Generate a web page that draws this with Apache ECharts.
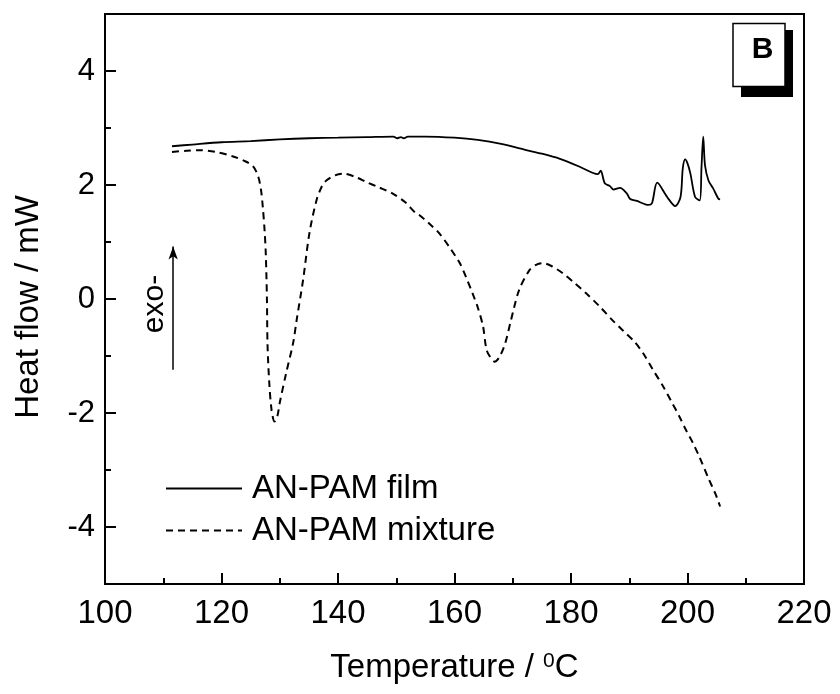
<!DOCTYPE html>
<html>
<head>
<meta charset="utf-8">
<script src="https://cdn.jsdelivr.net/npm/echarts@6/dist/echarts.min.js"></script>
<style>html,body{margin:0;padding:0;background:#fff}#c{width:840px;height:694px}</style>
</head>
<body>
<div id="c"></div>
<script>
// Temperature (°C) and heat flow (mW)
const filmT = [111.5,115,120,125,130,135,140,145,149.5,150.2,150.8,151.3,152,155,160,164,168,172,175,178.1,181.5,183.8,184.6,185.1,185.8,186.7,187.3,188.4,189.6,190.1,191.3,193.3,193.9,194.8,196.5,197.9,198.8,199.2,199.6,200.0,200.5,201.3,202.1,202.4,202.7,203.0,203.6,204.4,205.3,205.6];
const filmV = [2.68,2.71,2.75,2.77,2.80,2.82,2.83,2.84,2.85,2.82,2.84,2.82,2.85,2.85,2.83,2.79,2.72,2.62,2.55,2.46,2.32,2.21,2.19,2.25,2.03,1.98,1.92,1.95,1.85,1.76,1.72,1.65,1.68,2.04,1.79,1.63,1.79,2.30,2.45,2.38,2.20,1.79,1.73,2.30,2.85,2.35,2.08,1.94,1.76,1.75];
const mixT = [111.5,114,116.3,119,122,124,125.4,126.3,126.8,127.1,127.4,127.6,127.8,127.9,128.2,128.6,129.1,129.6,130,131.1,132.3,132.9,134,135.1,136.3,137.2,138,139.5,140.9,143,144.9,147,149.4,151.5,153.4,154,155.7,157.4,159.2,160.9,162,163.1,164,164.9,165.5,166.2,166.9,167.7,168.7,169.7,171.1,172.9,174,175.1,176.8,178.6,180.5,182.6,185,187.1,189,190.9,192.5,194,195.8,197.4,198.6,199.7,200.9,202,203.7,204.8,205.6];
const mixV = [2.58,2.60,2.61,2.58,2.50,2.42,2.33,2.15,1.90,1.60,1.20,0.80,0.00,-0.80,-1.47,-1.95,-2.15,-2.05,-1.82,-1.30,-0.77,-0.37,0.33,1.16,1.73,1.97,2.08,2.17,2.20,2.14,2.05,1.96,1.85,1.70,1.50,1.47,1.32,1.15,0.90,0.63,0.38,0.10,-0.15,-0.48,-0.89,-1.03,-1.10,-1.02,-0.78,-0.37,0.16,0.51,0.60,0.63,0.57,0.45,0.29,0.10,-0.14,-0.37,-0.56,-0.75,-0.97,-1.23,-1.53,-1.83,-2.06,-2.29,-2.52,-2.76,-3.17,-3.42,-3.64];
const seriesNames = ['AN-PAM film', 'AN-PAM mixture'];
const yMajorTicks = [-4, -2, 0, 2, 4];
const yMinorTicks = [-3, -1, 1, 3];
const arrowT = 111.7, arrowFrom = -1.24, arrowTo = 0.92;

const FONT = '"Liberation Sans", Arial, sans-serif';
const chart = echarts.init(document.getElementById('c'));
const zip = (a, b) => a.map((t, i) => [t, b[i]]);

chart.setOption({
  animation: false,
  backgroundColor: '#fff',
  textStyle: { fontFamily: FONT, color: '#000' },
  grid: { left: 105, right: 36, top: 14, bottom: 110, show: true, borderColor: '#000', borderWidth: 2, backgroundColor: 'transparent' },
  legend: {
    data: seriesNames, orient: 'vertical', left: 160, top: 467,
    itemWidth: 76, itemHeight: 14, itemGap: 9,
    itemStyle: { opacity: 0 },
    textStyle: { fontSize: 33, color: '#000', fontFamily: FONT, padding: [0, 0, 0, 5] },
    selectedMode: false
  },
  xAxis: {
    type: 'value', min: 100, max: 220, interval: 20,
    name: '{a|Temperature / }{s|0}{a|C}', nameLocation: 'middle', nameGap: 67,
    nameTextStyle: { rich: { a: { fontSize: 33, fontFamily: FONT, color: '#000' }, s: { fontSize: 21, fontFamily: FONT, color: '#000', verticalAlign: 'top' } } },
    axisLine: { onZero: false, lineStyle: { color: '#000', width: 2 } },
    axisTick: { inside: true, length: 11, lineStyle: { color: '#000', width: 2 } },
    minorTick: { show: true, splitNumber: 2, length: 6, lineStyle: { color: '#000', width: 2 } },
    splitLine: { show: false },
    axisLabel: { fontSize: 33, color: '#000', margin: 13, fontFamily: FONT }
  },
  yAxis: [{
    type: 'value', min: -5, max: 5, interval: 1, position: 'left',
    name: 'Heat flow / mW', nameLocation: 'middle', nameGap: 60, nameRotate: 90,
    nameTextStyle: { fontSize: 33, color: '#000', fontFamily: FONT, padding: [0, 16, 0, 0] },
    axisLine: { onZero: false, lineStyle: { color: '#000', width: 2 } },
    axisTick: { inside: true, length: 11, customValues: yMajorTicks, lineStyle: { color: '#000', width: 2 } },
    axisLabel: { customValues: yMajorTicks, fontSize: 31, color: '#000', margin: 10, fontFamily: FONT },
    splitLine: { show: false }
  }, {
    type: 'value', min: -5, max: 5, interval: 1, position: 'left',
    axisLine: { show: false, onZero: false },
    axisTick: { inside: true, length: 6, customValues: yMinorTicks, lineStyle: { color: '#000', width: 2 } },
    axisLabel: { show: false },
    splitLine: { show: false }
  }],
  series: [{
    name: seriesNames[0], type: 'line', yAxisIndex: 0, data: zip(filmT, filmV),
    showSymbol: false, symbol: 'none', smooth: 0.3,
    lineStyle: { color: '#000', width: 1.8, type: 'solid' }, itemStyle: { color: '#000' },
    markLine: {
      silent: true, symbol: ['none', 'arrow'], symbolSize: [7, 13],
      lineStyle: { color: '#000', width: 1.5, type: 'solid' }, label: { show: false },
      data: [[{ coord: [arrowT, arrowFrom] }, { coord: [arrowT, arrowTo] }]]
    }
  }, {
    name: seriesNames[1], type: 'line', yAxisIndex: 0, data: zip(mixT, mixV),
    showSymbol: false, symbol: 'none', smooth: 0.3,
    lineStyle: { color: '#000', width: 2, type: [7, 5] }, itemStyle: { color: '#000' }
  }],
  graphic: [
    { type: 'text', x: 155, y: 304, rotation: Math.PI / 2, style: { text: 'exo-', font: '30px ' + FONT, fill: '#000', align: 'center', verticalAlign: 'middle' } },
    { type: 'rect', shape: { x: 741, y: 30, width: 52, height: 67 }, style: { fill: '#000' } },
    { type: 'rect', shape: { x: 733, y: 23.5, width: 52, height: 63 }, style: { fill: '#fff', stroke: '#000', lineWidth: 1.5 } },
    { type: 'text', x: 762.5, y: 49.5, style: { text: 'B', font: 'bold 30px ' + FONT, fill: '#000', align: 'center', verticalAlign: 'middle' } }
  ]
});
</script>
</body>
</html>
